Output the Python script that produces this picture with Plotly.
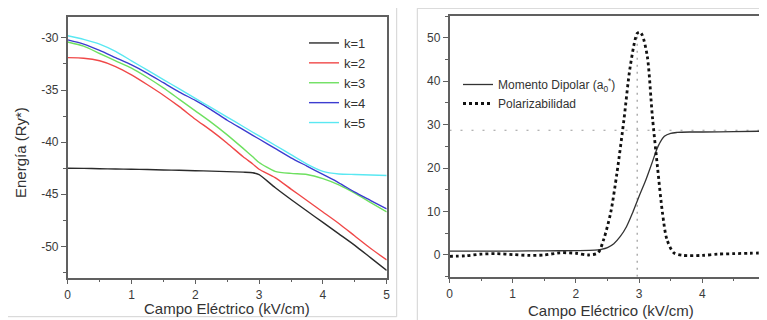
import plotly.graph_objects as go

# ---------------- Data (left panel: energy levels) ----------------
campo_izq = [0, 0.25, 0.5, 0.75, 1.0, 1.25, 1.5, 1.75, 2.0, 2.25, 2.5, 2.75,
             2.9, 3.0, 3.25, 3.5, 3.75, 4.0, 4.25, 4.5, 4.75, 5.0]
k1 = [-42.5, -42.52, -42.55, -42.58, -42.6, -42.63, -42.67, -42.7, -42.74, -42.78, -42.83, -42.88,
      -42.93, -43.12, -44.35, -45.5, -46.6, -47.7, -48.8, -49.9, -51.1, -52.3]
k2 = [-31.9, -31.95, -32.2, -32.75, -33.55, -34.5, -35.5, -36.6, -37.8, -38.9, -40.1, -41.4,
      -42.1, -42.6, -43.4, -44.5, -45.6, -46.7, -47.8, -49.0, -50.2, -51.3]
k3 = [-30.4, -30.8, -31.5, -32.2, -32.9, -33.8, -34.8, -35.9, -37.0, -38.1, -39.3, -40.6,
      -41.4, -41.95, -42.8, -43.0, -43.1, -43.5, -44.1, -44.9, -45.8, -46.7]
k4 = [-30.2, -30.6, -31.2, -31.9, -32.6, -33.4, -34.3, -35.2, -36.0, -36.9, -37.9, -38.8,
      -39.35, -39.7, -40.6, -41.5, -42.3, -43.1, -43.9, -44.8, -45.6, -46.4]
k5 = [-29.8, -30.15, -30.6, -31.3, -32.2, -33.1, -34.0, -34.9, -35.8, -36.7, -37.6, -38.5,
      -39.05, -39.4, -40.3, -41.2, -42.1, -42.8, -43.05, -43.1, -43.15, -43.2]
nombres_k = ["k=1", "k=2", "k=3", "k=4", "k=5"]
colores_k = ["#2b2b2b", "#f04848", "#6ee060", "#3c3cd0", "#5ae8f2"]
ticks_x = [0, 1, 2, 3, 4, 5]
ticks_x_txt = ["0", "1", "2", "3", "4", "5"]
ticks_energia = [-50, -45, -40, -35, -30]
ticks_energia_txt = ["-50", "-45", "-40", "-35", "-30"]

# ---------------- Data (right panel) ----------------
campo_dip = [0, 0.5, 1.0, 1.5, 2.0, 2.3, 2.4, 2.5, 2.6, 2.7, 2.8, 2.9, 3.0, 3.1, 3.2,
             3.3, 3.4, 3.5, 3.6, 3.8, 4.0, 4.5, 5.0]
momento_dipolar = [0.9, 0.9, 0.9, 0.95, 1.0, 1.1, 1.3, 1.7, 2.6, 4.2, 6.5, 9.8, 13.5, 17.0, 21.0,
                   25.0, 27.3, 28.0, 28.2, 28.3, 28.3, 28.4, 28.5]
campo_pol = [0, 0.25, 0.5, 0.75, 1.0, 1.25, 1.5, 1.75, 2.0, 2.2, 2.35, 2.44, 2.55, 2.65,
             2.76, 2.86, 2.97, 3.01, 3.05, 3.13, 3.21, 3.29, 3.37, 3.44, 3.55, 3.7, 4.0,
             4.25, 4.5, 4.75, 5.0]
polarizabilidad = [-0.3, -0.2, 0.2, 0.3, 0.1, -0.1, 0.0, 0.5, 0.4, 0.0, 0.5, 3.6, 9.7, 18.9,
                   31.1, 43.4, 51.0, 51.3, 50.6, 45.7, 31.9, 20.4, 9.7, 3.6, 0.5, -0.1, -0.1,
                   0.2, 0.3, 0.4, 0.5]
ticks_y2 = [0, 10, 20, 30, 40, 50]
ref_horizontal = 28.7
ref_vertical = 2.97
ref_vertical_top = 51.3

FONT = "Liberation Sans, Arial, sans-serif"
W, H = 767, 320
OFF = 8  # the page body margin offsets the figure by 8 px

def px(x):
    return (x - OFF) / W

def py(y):
    return 1 - (y - OFF) / H

fig = go.Figure()

for ys, name, col in zip([k1, k2, k3, k4, k5], nombres_k, colores_k):
    fig.add_trace(go.Scatter(x=campo_izq, y=ys, name=name, mode="lines",
                             line=dict(color=col, width=1.4, shape="spline", smoothing=0.6),
                             xaxis="x", yaxis="y", legend="legend"))

fig.add_trace(go.Scatter(x=campo_dip, y=momento_dipolar, mode="lines",
                         name="Momento Dipolar (a<sub>0</sub><sup>*</sup>)",
                         line=dict(color="#333333", width=1.3, shape="spline", smoothing=0.8),
                         xaxis="x2", yaxis="y2", legend="legend2"))
fig.add_trace(go.Scatter(x=campo_pol, y=polarizabilidad, mode="lines",
                         name="Polarizabilidad",
                         line=dict(color="#111111", width=2.8, dash="3px,3px",
                                   shape="spline", smoothing=0.8),
                         xaxis="x2", yaxis="y2", legend="legend2"))

axis_common = dict(showgrid=False, zeroline=False, showline=True, linecolor="#606060",
                   linewidth=1.5, ticks="outside", ticklen=5, tickwidth=1.3, automargin=False,
                   tickcolor="#606060", tickfont=dict(family=FONT, size=12, color="#3a3a3a"))
minor_common = dict(ticks="outside", ticklen=3, tickcolor="#606060")

fig.update_layout(
    width=W, height=H, margin=dict(l=0, r=0, t=0, b=0, autoexpand=False),
    paper_bgcolor="white", plot_bgcolor="white",
    xaxis=dict(domain=[px(67.7), px(386.7)], range=[0, 5],
               tickvals=ticks_x, ticktext=ticks_x_txt, mirror=True,
               minor=dict(dtick=0.5, **minor_common), anchor="y", **axis_common),
    yaxis=dict(domain=[py(277.7), py(17)], range=[-53, -28],
               tickvals=ticks_energia, ticktext=ticks_energia_txt, mirror=True,
               minor=dict(dtick=2.5, **minor_common), anchor="x", **axis_common),
    xaxis2=dict(domain=[px(449.5), px(767)], range=[0, 5.024],
                tickvals=ticks_x, ticktext=ticks_x_txt, mirror=True,
                minor=dict(dtick=0.5, **minor_common), anchor="y2", **axis_common),
    yaxis2=dict(domain=[py(276.7), py(16)], range=[-5, 55], tickvals=ticks_y2, mirror=True,
                minor=dict(dtick=5, **minor_common), anchor="x2", **axis_common),
    legend=dict(x=px(304), y=py(28), xanchor="left", yanchor="top",
                bgcolor="rgba(0,0,0,0)", tracegroupgap=0,
                font=dict(family=FONT, size=13, color="#333333")),
    legend2=dict(x=px(458), y=py(70), xanchor="left", yanchor="top",
                 bgcolor="rgba(0,0,0,0)", tracegroupgap=0,
                 font=dict(family=FONT, size=12, color="#333333")),
    shapes=[
        dict(type="line", xref="x2", yref="y2", x0=0, x1=5.024,
             y0=ref_horizontal, y1=ref_horizontal,
             line=dict(color="#9a9a9a", width=1.2, dash="2px,9px"), layer="below"),
        dict(type="line", xref="x2", yref="y2", x0=ref_vertical, x1=ref_vertical,
             y0=-5, y1=ref_vertical_top,
             line=dict(color="#9a9a9a", width=1.2, dash="2px,5px"), layer="below"),
        # panel borders
        dict(type="line", xref="paper", yref="paper", x0=px(396.7), x1=px(396.7),
             y0=py(0), y1=py(316.7), line=dict(color="#d2d2d2", width=1)),
        dict(type="line", xref="paper", yref="paper", x0=px(0), x1=px(396.7),
             y0=py(316.7), y1=py(316.7), line=dict(color="#d2d2d2", width=1)),
        dict(type="line", xref="paper", yref="paper", x0=px(417.3), x1=px(417.3),
             y0=py(8.3), y1=py(320), line=dict(color="#d2d2d2", width=1)),
        dict(type="line", xref="paper", yref="paper", x0=px(417.3), x1=px(767),
             y0=py(8.3), y1=py(8.3), line=dict(color="#d2d2d2", width=1)),
    ],
    annotations=[
        dict(text="Campo Eléctrico (kV/cm)", xref="paper", yref="paper",
             x=px(227), y=py(308.5), xanchor="center", yanchor="middle", showarrow=False,
             font=dict(family=FONT, size=15, color="#333333")),
        dict(text="Campo Eléctrico (kV/cm)", xref="paper", yref="paper",
             x=px(611), y=py(310), xanchor="center", yanchor="middle", showarrow=False,
             font=dict(family=FONT, size=15, color="#333333")),
        dict(text="Energía (Ry*)", xref="paper", yref="paper",
             x=px(20), y=py(153), xanchor="center", yanchor="middle", showarrow=False,
             textangle=-90, font=dict(family=FONT, size=15, color="#333333")),
    ],
)

fig.write_html("out.html")
